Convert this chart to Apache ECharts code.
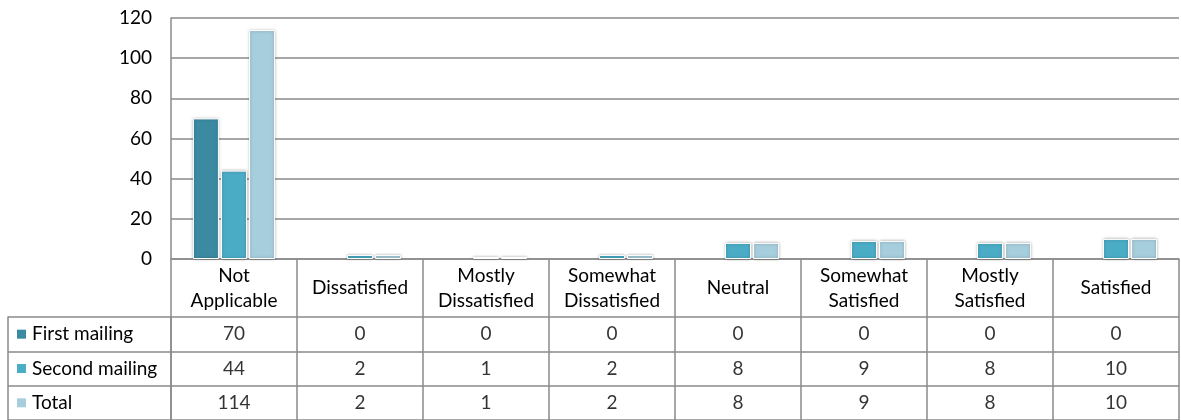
<!DOCTYPE html>
<html>
<head>
<meta charset="utf-8">
<script src="https://cdn.jsdelivr.net/npm/echarts@6/dist/echarts.min.js"></script>
<style>
  html, body { margin: 0; padding: 0; background: #fff; }
  #chart { width: 1181px; height: 420px; }
</style>
</head>
<body>
<div id="chart"></div>
<script>
// categories and values
const categories = ['Not\nApplicable', 'Dissatisfied', 'Mostly\nDissatisfied', 'Somewhat\nDissatisfied',
  'Neutral', 'Somewhat\nSatisfied', 'Mostly\nSatisfied', 'Satisfied']
const seriesNames = ['First mailing', 'Second mailing', 'Total']
const firstMailing = [70, 0, 0, 0, 0, 0, 0, 0]
const secondMailing = [44, 2, 1, 2, 8, 9, 8, 10]
const total = [114, 2, 1, 2, 8, 9, 8, 10]
const yTicks = { min: 0, max: 120, interval: 20 }

const colors = ['#3b8aa2', '#4bacc6', '#a7cedc']
const lineColor = '#8a8a8a'
const font = 'Lato'
const fs = 19

const allValues = [firstMailing, secondMailing, total]

// bars (no glow on empty bars)
const barSeries = allValues.map((vals, i) => ({
  name: seriesNames[i],
  type: 'bar',
  xAxisIndex: 0,
  yAxisIndex: 0,
  data: vals.map(v => v > 0 ? v : { value: v, itemStyle: { borderWidth: 0, shadowBlur: 0 } }),
  barWidth: 26,
  barGap: '8%',
  itemStyle: {
    color: colors[i],
    borderColor: '#ffffff',
    borderWidth: 1,
    shadowColor: 'rgba(0,0,0,0.3)',
    shadowBlur: 3
  }
}))

// data table cells
const tableSeries = allValues.map((vals, i) => ({
  name: seriesNames[i] + ' table',
  type: 'scatter',
  xAxisIndex: 1,
  yAxisIndex: 1,
  symbolSize: 1,
  itemStyle: { color: 'transparent' },
  silent: true,
  data: vals.map((v, c) => [c, seriesNames[i], v]),
  label: {
    show: true,
    position: 'inside',
    formatter: p => String(p.value[2]),
    color: '#000',
    fontFamily: font,
    fontSize: fs
  }
}))

const rich = {}
colors.forEach((c, i) => {
  rich['m' + i] = { width: 9, height: 9, backgroundColor: c }
})
rich.t = { fontFamily: font, fontSize: fs, color: '#000', padding: [0, 0, 0, 6] }

const option = {
  animation: false,
  textStyle: { fontFamily: font },
  grid: [
    { left: 171, right: 2, top: 18, height: 241 },
    { left: 171, right: 2, top: 317, height: 105 }
  ],
  xAxis: [
    {
      type: 'category',
      gridIndex: 0,
      data: categories,
      axisLine: { show: true, lineStyle: { color: lineColor, width: 1.5 } },
      axisTick: { show: true, length: 58, lineStyle: { color: lineColor, width: 1.5 } },
      axisLabel: {
        interval: 0,
        margin: 29,
        verticalAlign: 'middle',
        lineHeight: 25,
        color: '#000',
        fontFamily: font,
        fontSize: fs
      }
    },
    {
      type: 'category',
      gridIndex: 1,
      data: categories,
      axisLine: { show: false },
      axisTick: { show: false },
      axisLabel: { show: false },
      splitLine: { show: true, lineStyle: { color: lineColor, width: 1.5 } }
    }
  ],
  yAxis: [
    {
      type: 'value',
      gridIndex: 0,
      min: yTicks.min,
      max: yTicks.max,
      interval: yTicks.interval,
      axisLine: { show: true, lineStyle: { color: lineColor, width: 1.5 } },
      axisTick: { show: false },
      axisLabel: { margin: 19, color: '#000', fontFamily: font, fontSize: fs },
      splitLine: { show: true, lineStyle: { color: lineColor, width: 1.5 } }
    },
    {
      type: 'category',
      gridIndex: 1,
      inverse: true,
      data: seriesNames,
      axisLine: { show: true, lineStyle: { color: lineColor, width: 1.5 } },
      axisTick: { show: true, length: 163, lineStyle: { color: lineColor, width: 1.5 } },
      axisLabel: {
        align: 'left',
        margin: 154,
        formatter: (v, idx) => `{m${idx}|}{t|${v}}`,
        rich: rich
      },
      splitLine: { show: true, lineStyle: { color: lineColor, width: 1.5 } }
    },
    {
      // left border of the legend column
      type: 'category',
      gridIndex: 1,
      inverse: true,
      data: seriesNames,
      position: 'left',
      offset: 163,
      axisLine: { show: true, lineStyle: { color: lineColor, width: 1.5 } },
      axisTick: { show: false },
      axisLabel: { show: false }
    }
  ],
  series: [...barSeries, ...tableSeries]
}

const chart = echarts.init(document.getElementById('chart'))
chart.setOption(option)
</script>
</body>
</html>
